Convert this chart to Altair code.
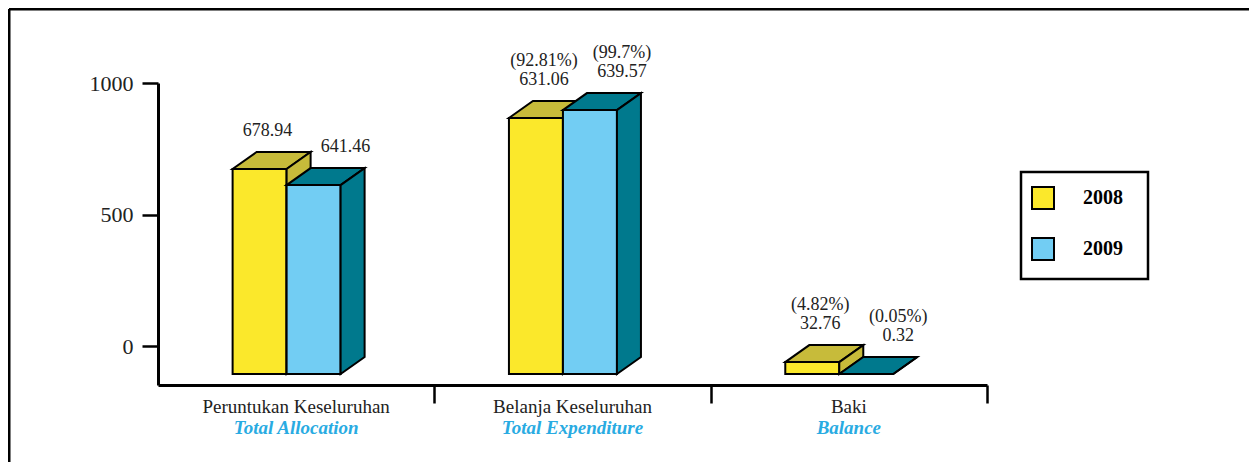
import altair as alt
import pandas as pd

# ---- data ----
categories = ["Peruntukan Keseluruhan", "Belanja Keseluruhan", "Baki"]
categories_en = ["Total Allocation", "Total Expenditure", "Balance"]
series = ["2008", "2009"]
bar_2008 = [673, 867, -61]      # bar tops as drawn against the axis
bar_2009 = [612, 897, -106]
label_2008 = ["678.94", "631.06", "32.76"]
label_2009 = ["641.46", "639.57", "0.32"]
pct_2008 = ["", "(92.81%)", "(4.82%)"]
pct_2009 = ["", "(99.7%)", "(0.05%)"]
floor_value = -106
y_ticks = [0, 500, 1000]
x_ticks = [1, 2, 3]

# ---- geometry / style constants ----
W, H = 829, 302
Y_MIN, Y_MAX = -148, 1000
PX_X = W / 3.0
PX_Y = H / (Y_MAX - Y_MIN)
BAR_W = 54 / PX_X
DEPTH_X = 24 / PX_X
DEPTH_Y = 17 / PX_Y
START = 0.27
LABEL_SHIFT = {"2008": -4 / PX_X, "2009": 20 / PX_X}

FRONT = {"2008": "#FBE82B", "2009": "#72CDF3"}
SHADE = {"2008": "#C7BB3A", "2009": "#00798D"}
FONT = "Liberation Serif"

values = {"2008": bar_2008, "2009": bar_2009}
labels = {"2008": label_2008, "2009": label_2009}
pcts = {"2008": pct_2008, "2009": pct_2009}

front_rows, top_rows, side_rows, text_rows = [], [], [], []
for k, s in enumerate(series):
    for i, c in enumerate(categories):
        x0 = i + START + k * BAR_W
        top = values[s][i]
        bid = f"{s}-{i}"
        front_rows.append(dict(series=s, cat=c, x0=x0, x1=x0 + BAR_W, lo=floor_value, hi=top))
        for xx, lo, hi in [
            (x0, top, top),
            (x0 + DEPTH_X, top, top + DEPTH_Y),
            (x0 + BAR_W, top, top + DEPTH_Y),
            (x0 + BAR_W + DEPTH_X, top + DEPTH_Y, top + DEPTH_Y),
        ]:
            top_rows.append(dict(series=s, id=bid, x0=xx, lo=lo, hi=hi))
        for xx, lo, hi in [
            (x0 + BAR_W, floor_value, top),
            (x0 + BAR_W + DEPTH_X, floor_value + DEPTH_Y, top + DEPTH_Y),
        ]:
            side_rows.append(dict(series=s, id=bid, x0=xx, lo=lo, hi=hi))
        text_rows.append(dict(series=s, x0=x0 + (BAR_W + DEPTH_X) / 2 + LABEL_SHIFT[s],
                              lo=top + DEPTH_Y, val=labels[s][i], pct=pcts[s][i]))

front_df = pd.DataFrame(front_rows)
top_df = pd.DataFrame(top_rows)
side_df = pd.DataFrame(side_rows)
text_df = pd.DataFrame(text_rows)
cat_df = pd.DataFrame({"x0": [i + 0.5 for i in range(3)], "ms": categories, "en": categories_en})

xs = alt.Scale(domain=[0, 3], nice=False, zero=False)
ys = alt.Scale(domain=[Y_MIN, Y_MAX], nice=False, zero=False)
cs = alt.Scale(domain=series, range=[FRONT[s] for s in series])

xaxis = alt.Axis(values=x_ticks, labels=False, title=None, tickSize=18, tickWidth=2.5, domainWidth=3,
                 domainColor="black", tickColor="black", grid=False)
yaxis = alt.Axis(values=y_ticks, format="d", title=None, tickSize=16, tickWidth=2.5, domainWidth=3,
                 domainColor="black", tickColor="black", labelFont=FONT, labelFontSize=22,
                 labelColor="#222", labelPadding=9, grid=False)


def X():
    return alt.X("x0:Q", scale=xs, axis=xaxis)


def Y():
    return alt.Y("lo:Q", scale=ys, axis=yaxis, stack=None)


layers = []

# frame (top & left border) and legend box
one = alt.Data(values=[{}])
layers.append(alt.Chart(one).mark_rule(color="black", strokeWidth=3).encode(
    x=alt.value(-149), y=alt.value(-74), y2=alt.value(H + 80)))
layers.append(alt.Chart(one).mark_rule(color="black", strokeWidth=3).encode(
    x=alt.value(-149), x2=alt.value(W + 262), y=alt.value(-74)))
layers.append(alt.Chart(one).mark_rect(fill="white", stroke="black", strokeWidth=2.5).encode(
    x=alt.value(1021 - 158), x2=alt.value(1148 - 158), y=alt.value(172 - 83), y2=alt.value(279 - 83)))

legend = alt.Legend(title=None, orient="none", legendX=1031 - 158, legendY=186 - 83,
                    symbolType="square", symbolSize=484, symbolStrokeColor="black",
                    symbolStrokeWidth=2, labelFont=FONT, labelFontSize=20,
                    labelFontWeight="bold", labelColor="black", labelOffset=28,
                    rowPadding=21, padding=0)

for s in series:
    fd = front_df[front_df.series == s]
    layers.append(alt.Chart(fd).mark_rect(stroke="black", strokeWidth=2).encode(
        x=X(), x2="x1:Q", y=Y(), y2="hi:Q",
        color=alt.Color("series:N", scale=cs, legend=legend)))
    for df in (top_df[top_df.series == s], side_df[side_df.series == s]):
        layers.append(alt.Chart(df).mark_area(color=SHADE[s], stroke="black", strokeWidth=2,
                                              orient="vertical", interpolate="linear").encode(
            x=X(), y=Y(), y2="hi:Q", detail="id:N"))

# value labels
layers.append(alt.Chart(text_df).mark_text(font=FONT, fontSize=18, color="#222", baseline="middle", dy=-21).encode(
    x=X(), y=Y(), text="val:N"))
layers.append(alt.Chart(text_df).mark_text(font=FONT, fontSize=18, color="#222", baseline="middle", dy=-40).encode(
    x=X(), y=Y(), text="pct:N"))

# category labels
layers.append(alt.Chart(cat_df).mark_text(font=FONT, fontSize=19, color="#222", baseline="middle").encode(
    x=X(), y=alt.value(407 - 83), text="ms:N"))
layers.append(alt.Chart(cat_df).mark_text(font=FONT, fontSize=19, color="#29ABE2", baseline="middle",
                                          fontStyle="italic", fontWeight="bold").encode(
    x=X(), y=alt.value(428 - 83), text="en:N"))

chart = alt.layer(*layers).properties(
    width=W, height=H,
    background="white",
    autosize=alt.AutoSizeParams(type="none"),
    padding={"left": 150, "top": 75, "right": 262, "bottom": 77},
).configure_view(stroke="transparent", strokeWidth=0)

chart.save("out.html", embed_options={"renderer": "svg", "actions": False})
